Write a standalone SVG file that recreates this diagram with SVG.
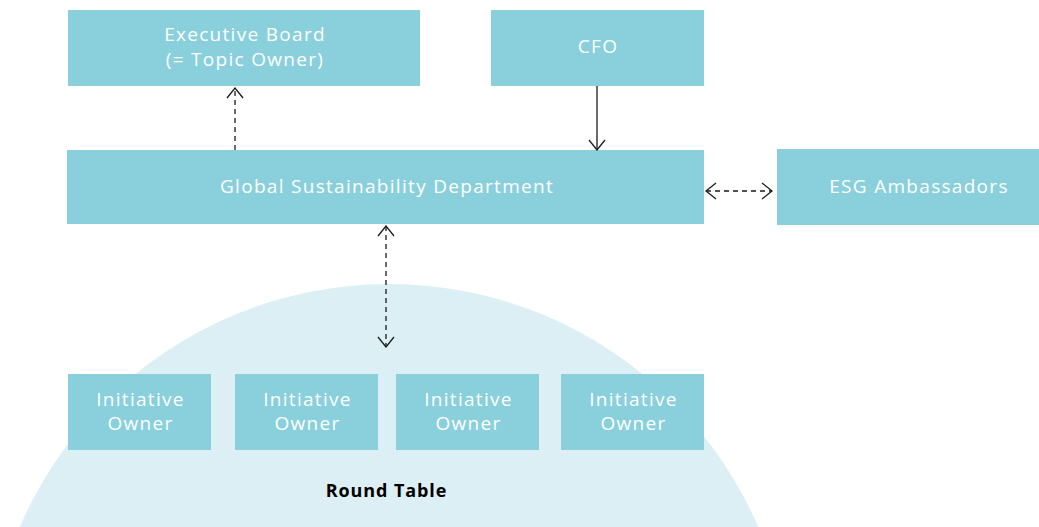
<svg xmlns="http://www.w3.org/2000/svg" width="1039" height="527" viewBox="0 0 1039 527">
  <style>
    .box { fill: #89d0dc; }
    .lbl { fill: #ffffff; font-family: "Open Sans", "Liberation Sans", sans-serif; font-size: 19px; letter-spacing: 1.3px; text-anchor: middle; }
    .conn { stroke: #1a1a1a; stroke-width: 1.3; fill: none; }
    .dash { stroke-dasharray: 5 4; }
  </style>
  <defs>
    <marker id="chev" viewBox="0 0 12 18" refX="11" refY="9" markerWidth="12" markerHeight="18" markerUnits="userSpaceOnUse" orient="auto-start-reverse">
      <path d="M1,1 L11,9 L1,17" fill="none" stroke="#1a1a1a" stroke-width="1.3"/>
    </marker>
  </defs>

  <!-- round table backdrop -->
  <circle cx="389" cy="686" r="402" fill="#dbeff4"/>

  <g id="executive-board">
    <rect class="box" x="68" y="10" width="352" height="76"/>
    <text class="lbl" x="245" y="41">Executive Board</text>
    <text class="lbl" x="245" y="66">(= Topic Owner)</text>
  </g>
  <g id="cfo">
    <rect class="box" x="491" y="10" width="213" height="76"/>
    <text class="lbl" x="598" y="53">CFO</text>
  </g>
  <g id="global-sustainability">
    <rect class="box" x="67" y="150" width="637" height="74"/>
    <text class="lbl" x="387" y="193">Global Sustainability Department</text>
  </g>
  <g id="esg-ambassadors">
    <rect class="box" x="777" y="149" width="262" height="76"/>
    <text class="lbl" x="919" y="193">ESG Ambassadors</text>
  </g>
  <g id="initiative-owner-1">
    <rect class="box" x="68" y="374" width="143" height="76"/>
    <text class="lbl" x="140.5" y="406">Initiative</text>
    <text class="lbl" x="140.5" y="430">Owner</text>
  </g>
  <g id="initiative-owner-2">
    <rect class="box" x="235" y="374" width="143" height="76"/>
    <text class="lbl" x="307.5" y="406">Initiative</text>
    <text class="lbl" x="307.5" y="430">Owner</text>
  </g>
  <g id="initiative-owner-3">
    <rect class="box" x="396" y="374" width="143" height="76"/>
    <text class="lbl" x="468.5" y="406">Initiative</text>
    <text class="lbl" x="468.5" y="430">Owner</text>
  </g>
  <g id="initiative-owner-4">
    <rect class="box" x="561" y="374" width="143" height="76"/>
    <text class="lbl" x="633.5" y="406">Initiative</text>
    <text class="lbl" x="633.5" y="430">Owner</text>
  </g>
  <g id="round-table">
    <text x="386.5" y="497" text-anchor="middle" font-family="'Open Sans', 'Liberation Sans', sans-serif" font-size="18px" font-weight="bold" letter-spacing="0.9px" fill="#000000">Round Table</text>
  </g>

  <g id="connectors">
    <line class="conn dash" x1="235" y1="150" x2="235" y2="88" marker-end="url(#chev)"/>
    <line class="conn" x1="597" y1="86" x2="597" y2="150" marker-end="url(#chev)"/>
    <line class="conn dash" x1="706" y1="191" x2="772" y2="191" marker-start="url(#chev)" marker-end="url(#chev)"/>
    <line class="conn dash" x1="386" y1="226" x2="386" y2="347" marker-start="url(#chev)" marker-end="url(#chev)"/>
  </g>
</svg>
